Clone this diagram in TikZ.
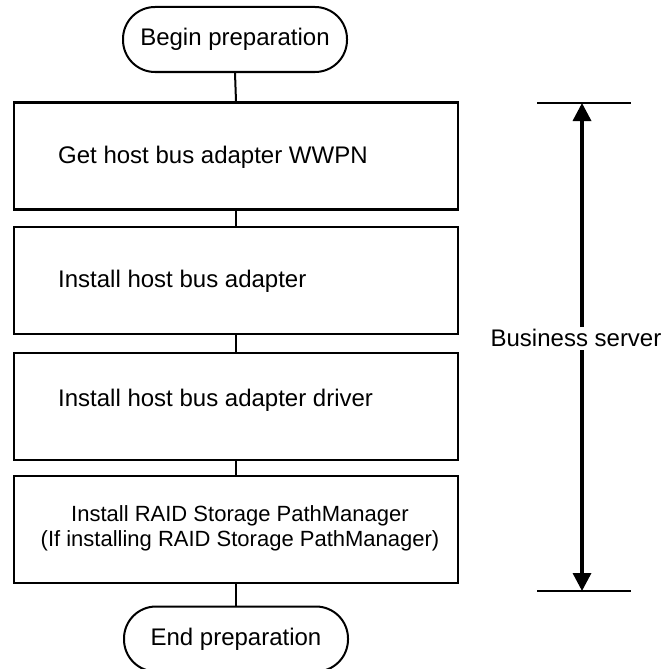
\documentclass[tikz,border=0pt]{standalone}
\usepackage{fontspec}
\setmainfont{Liberation Sans}
\usetikzlibrary{arrows.meta}
\begin{document}
\begin{tikzpicture}[x=1pt,y=-1pt,
  box/.style={draw,line width=2.4pt,minimum width=444pt,minimum height=107pt,inner sep=0pt},
  term/.style={draw,line width=2pt,rounded corners=32pt,minimum width=224pt,minimum height=65pt,inner sep=0pt,font=\fontsize{24}{28}\selectfont},
  lbl/.style={font=\fontsize{24}{28}\selectfont,anchor=west,inner sep=0pt},
  small/.style={font=\fontsize{22}{25}\selectfont,align=center,inner sep=0pt},
  link/.style={line width=2pt},
  brace/.style={line width=2.6pt},
  span/.style={line width=3.4pt,-{Triangle[width=18pt,length=18pt]}}]
\useasboundingbox (0,0) rectangle (665,669);
% terminals
\node[term] (begin) at (235,39.5) {Begin preparation};
\node[term] (end) at (236,639) {End preparation};
% boxes
\node[box] (b1) at (236,156) {};
\node[box] (b2) at (236,280.5) {};
\node[box] (b3) at (236,406.5) {};
\node[box] (b4) at (236,529.5) {};
% texts
\node[lbl] (t1) at (58,157) {Get host bus adapter WWPN};
\node[lbl] (t2) at (58,281) {Install host bus adapter};
\node[lbl] (t3) at (58,400) {Install host bus adapter driver};
\node[small] (t4) at (240,528) {Install RAID Storage PathManager\\(If installing RAID Storage PathManager)};
% connectors
\draw[link] (begin.south) -- (b1.north);
\draw[link] (b1.south) -- (b2.north);
\draw[link] (b2.south) -- (b3.north);
\draw[link] (b3.south) -- (b4.north);
\draw[link] (b4.south) -- (end.north);
% right span
\coordinate (tl) at (537,103);
\coordinate (tr) at (631,103);
\coordinate (bl) at (537,591);
\coordinate (br) at (631,591);
\coordinate (top) at (582,103);
\coordinate (bot) at (582,591);
\draw[brace] (tl) -- (tr);
\draw[brace] (bl) -- (br);
\node[font=\fontsize{24}{28}\selectfont,inner sep=0pt] (bs) at (576,338) {Business server};
\coordinate (up) at (582,327);
\coordinate (dn) at (582,350);
\draw[span] (up) -- (top);
\draw[span] (dn) -- (bot);
\end{tikzpicture}
\end{document}
